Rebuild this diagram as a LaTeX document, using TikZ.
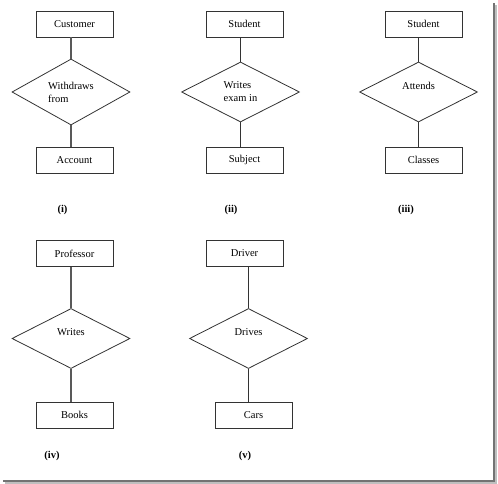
\documentclass[tikz,border=0pt]{standalone}
\usepackage{fontspec}
\setmainfont{Liberation Serif}
\usetikzlibrary{shapes.geometric}
\begin{document}
\begin{tikzpicture}[x=1pt,y=-1pt,
  every node/.style={font=\fontsize{10.5}{13}\selectfont},
  ent/.style={draw=black!80, line width=0.8pt, minimum width=77pt, minimum height=26pt, inner sep=0pt},
  rel/.style={diamond, draw=black!80, line width=0.8pt, minimum width=118pt, minimum height=60pt, inner sep=0pt, align=left},
  lnk/.style={draw=black!80, line width=0.9pt},
  lnkb/.style={draw=black!65, line width=1.4pt},
  lbl/.style={font=\fontsize{10.5}{13}\selectfont\bfseries}]
\useasboundingbox (0,0) rectangle (498,484);
% frame shadow
\fill[black!55] (492.5,3) rectangle (494.5,481.5);
\fill[black!55] (3,479.5) rectangle (494.5,481.5);
\fill[black!25] (494.5,5) rectangle (497,483.5);
\fill[black!25] (5,481.5) rectangle (497,483.5);
% (i)
\node[ent] (c1) at (74.5,24) {Customer};
\node[rel] (r1) at (71,92) {Withdraws\\from};
\node[ent] (a1) at (74.5,160) {Account};
\draw[lnkb] (r1.north) -- (r1.north |- c1.south);
\draw[lnkb] (r1.south) -- (r1.south |- a1.north);
\node[lbl] (l1) at (62.5,210) {(i)};
% (ii)
\node[ent] (s2) at (244.5,24) {Student};
\node[rel] (r2) at (240.5,92) {Writes\\exam in};
\node[ent] (b2) at (244.5,160) {Subject};
\draw[lnk] (r2.north) -- (r2.north |- s2.south);
\draw[lnk] (r2.south) -- (r2.south |- b2.north);
\node[lbl] (l2) at (231,210) {(ii)};
% (iii)
\node[ent] (s3) at (423.5,24) {Student};
\node[rel] (r3) at (418.5,92) {Attends\\\mbox{}};
\node[ent] (b3) at (423.5,160) {Classes};
\draw[lnk] (r3.north) -- (r3.north |- s3.south);
\draw[lnk] (r3.south) -- (r3.south |- b3.north);
\node[lbl] (l3) at (406,210) {(iii)};
% (iv)
\node[ent] (p4) at (74.5,253.5) {Professor};
\node[rel] (r4) at (71,338.5) {Writes\\\mbox{}};
\node[ent] (b4) at (74.5,415) {Books};
\draw[lnkb] (r4.north) -- (r4.north |- p4.south);
\draw[lnkb] (r4.south) -- (r4.south |- b4.north);
\node[lbl] (l4) at (52,456) {(iv)};
% (v)
\node[ent] (d5) at (244.5,253.5) {Driver};
\node[rel] (r5) at (248.5,338.5) {Drives\\\mbox{}};
\node[ent] (b5) at (253.5,415) {Cars};
\draw[lnk] (r5.north) -- (r5.north |- d5.south);
\draw[lnk] (r5.south) -- (r5.south |- b5.north);
\node[lbl] (l5) at (245,456) {(v)};
\end{tikzpicture}
\end{document}
